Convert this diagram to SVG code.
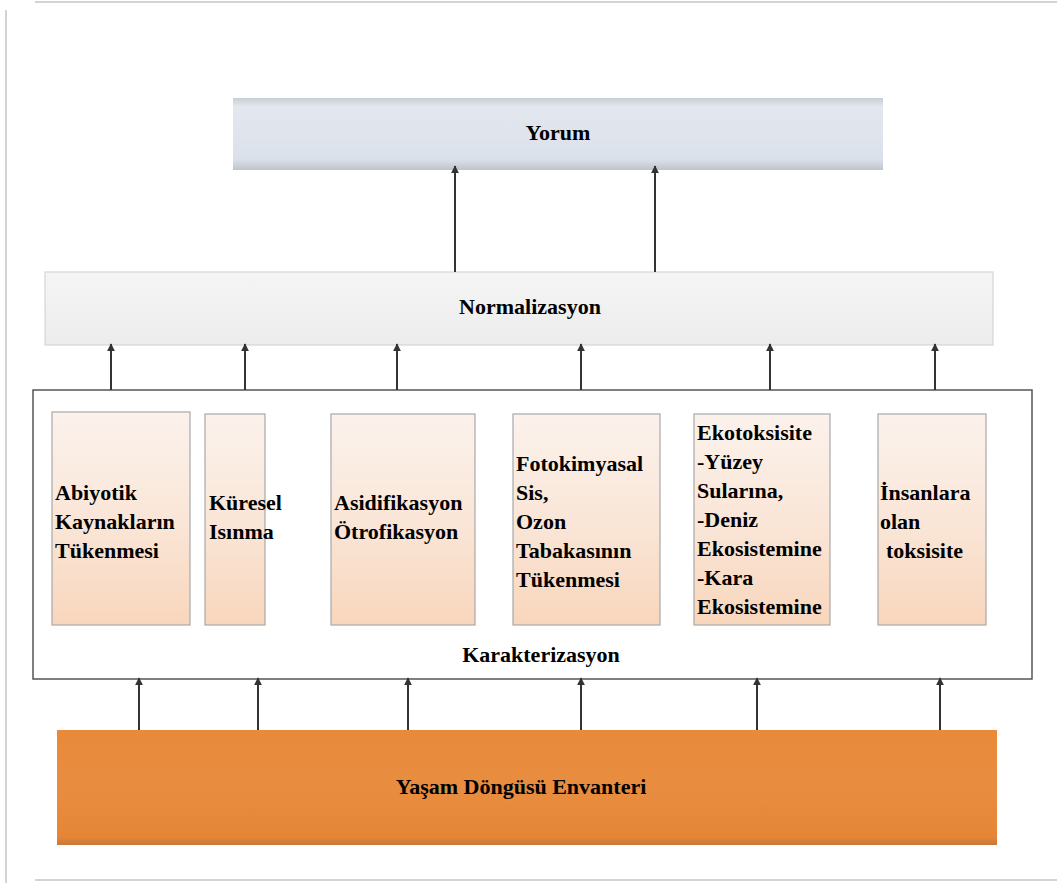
<svg xmlns="http://www.w3.org/2000/svg" width="1057" height="883" viewBox="0 0 1057 883">
  <defs>
    <style>
      .lbl { font-family: 'Liberation Serif', 'DejaVu Serif', 'Times New Roman', serif; font-weight: bold; font-size: 22px; fill: #000; }
      .mid { text-anchor: middle; }
      .frame { fill: none; stroke: #c4c4c4; stroke-width: 1.5; }
      .cat { fill: url(#peach); stroke: #a8a8a8; stroke-width: 1.2; }
      .conn line { stroke: #333; stroke-width: 2; marker-end: url(#arrow); }
    </style>
    <linearGradient id="peach" x1="0" y1="0" x2="0" y2="1">
      <stop offset="0" stop-color="#fbf2ec"/>
      <stop offset="0.5" stop-color="#fae6d8"/>
      <stop offset="1" stop-color="#f8d6bc"/>
    </linearGradient>
    <linearGradient id="blue" x1="0" y1="0" x2="0" y2="1">
      <stop offset="0" stop-color="#c9cdd4"/>
      <stop offset="0.12" stop-color="#e3e7ee"/>
      <stop offset="0.85" stop-color="#dbe1ec"/>
      <stop offset="1" stop-color="#bfc3ca"/>
    </linearGradient>
    <linearGradient id="grey" x1="0" y1="0" x2="0" y2="1">
      <stop offset="0" stop-color="#f5f5f5"/>
      <stop offset="1" stop-color="#ececec"/>
    </linearGradient>
    <linearGradient id="orange" x1="0" y1="0" x2="0" y2="1">
      <stop offset="0" stop-color="#e9893a"/>
      <stop offset="0.5" stop-color="#e88d40"/>
      <stop offset="0.93" stop-color="#e58636"/>
      <stop offset="1" stop-color="#c8773a"/>
    </linearGradient>
    <marker id="arrow" viewBox="0 0 10 10" refX="9" refY="5" markerWidth="4" markerHeight="4" orient="auto">
      <path d="M0,0 L10,5 L0,10 z" fill="#333"/>
    </marker>
  </defs>

  <rect width="1057" height="883" fill="#ffffff"/>

  <!-- page border -->
  <g id="page">
    <line class="frame" x1="35" y1="2" x2="1057" y2="2"/>
    <line class="frame" x1="6" y1="10" x2="6" y2="883"/>
    <line class="frame" x1="35" y1="880" x2="1057" y2="880"/>
  </g>

  <g id="yorum">
    <rect x="233" y="98" width="650" height="72" fill="url(#blue)"/>
    <text class="lbl mid" x="558" y="140">Yorum</text>
  </g>

  <g id="normalizasyon">
    <rect x="45" y="272" width="948" height="73" fill="url(#grey)" stroke="#d6d6d6" stroke-width="1.2"/>
    <text class="lbl mid" x="530" y="314">Normalizasyon</text>
  </g>

  <g id="karakterizasyon">
    <rect x="33" y="390" width="999" height="289" fill="#fff" stroke="#555" stroke-width="1.5"/>
    <text class="lbl mid" x="541" y="662">Karakterizasyon</text>
  </g>

  <g id="abiyotik">
    <rect class="cat" x="52" y="412" width="138" height="213"/>
    <text class="lbl" x="55" y="500">Abiyotik</text>
    <text class="lbl" x="55" y="529">Kaynakların</text>
    <text class="lbl" x="55" y="558">Tükenmesi</text>
  </g>

  <g id="kuresel">
    <rect class="cat" x="205" y="414" width="60" height="211"/>
    <text class="lbl" x="209" y="510">Küresel</text>
    <text class="lbl" x="209" y="539">Isınma</text>
  </g>

  <g id="asidifikasyon">
    <rect class="cat" x="331" y="414" width="144" height="211"/>
    <text class="lbl" x="334" y="510">Asidifikasyon</text>
    <text class="lbl" x="334" y="539">Ötrofikasyon</text>
  </g>

  <g id="fotokimyasal">
    <rect class="cat" x="513" y="414" width="147" height="211"/>
    <text class="lbl" x="516" y="471">Fotokimyasal</text>
    <text class="lbl" x="516" y="500">Sis,</text>
    <text class="lbl" x="516" y="529">Ozon</text>
    <text class="lbl" x="516" y="558">Tabakasının</text>
    <text class="lbl" x="516" y="587">Tükenmesi</text>
  </g>

  <g id="ekotoksisite">
    <rect class="cat" x="694" y="414" width="136" height="211"/>
    <text class="lbl" x="697" y="440">Ekotoksisite</text>
    <text class="lbl" x="697" y="469">-Yüzey</text>
    <text class="lbl" x="697" y="498">Sularına,</text>
    <text class="lbl" x="697" y="527">-Deniz</text>
    <text class="lbl" x="697" y="556">Ekosistemine</text>
    <text class="lbl" x="697" y="585">-Kara</text>
    <text class="lbl" x="697" y="614">Ekosistemine</text>
  </g>

  <g id="insanlara">
    <rect class="cat" x="878" y="414" width="108" height="211"/>
    <text class="lbl" x="880" y="500">İnsanlara</text>
    <text class="lbl" x="880" y="529">olan</text>
    <text class="lbl" x="886" y="558">toksisite</text>
  </g>

  <g id="envanter">
    <rect x="57" y="730" width="940" height="115" fill="url(#orange)"/>
    <text class="lbl mid" x="521" y="794">Yaşam Döngüsü Envanteri</text>
  </g>

  <g id="connectors" class="conn">
    <!-- normalizasyon to yorum -->
    <line x1="455" y1="272" x2="455" y2="166"/>
    <line x1="655" y1="272" x2="655" y2="166"/>
    <!-- karakterizasyon to normalizasyon -->
    <line x1="111" y1="390" x2="111" y2="344"/>
    <line x1="245" y1="390" x2="245" y2="344"/>
    <line x1="397" y1="390" x2="397" y2="344"/>
    <line x1="581" y1="390" x2="581" y2="344"/>
    <line x1="770" y1="390" x2="770" y2="344"/>
    <line x1="935" y1="390" x2="935" y2="344"/>
    <!-- envanter to karakterizasyon -->
    <line x1="139" y1="730" x2="139" y2="678"/>
    <line x1="258" y1="730" x2="258" y2="678"/>
    <line x1="408" y1="730" x2="408" y2="678"/>
    <line x1="581" y1="730" x2="581" y2="678"/>
    <line x1="757" y1="730" x2="757" y2="678"/>
    <line x1="940" y1="730" x2="940" y2="678"/>
  </g>
</svg>
